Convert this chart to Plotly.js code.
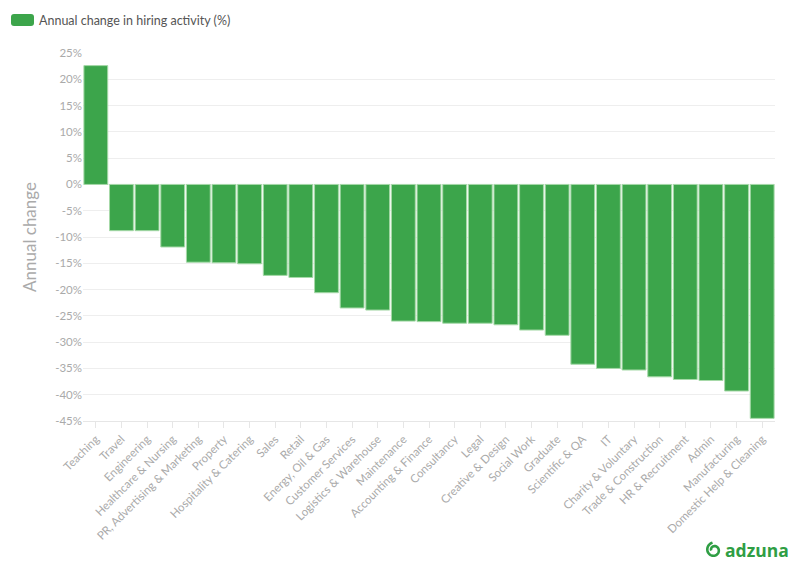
<!DOCTYPE html>
<html>
<head>
<meta charset="utf-8">
<script src="https://cdn.plot.ly/plotly-3.0.1.min.js"></script>
<style>html,body{margin:0;padding:0;background:#fff;}#chart{width:796px;height:575px;}</style>
</head>
<body>
<div id="chart"></div>
<script>
const categories = ["Teaching","Travel","Engineering","Healthcare & Nursing","PR, Advertising & Marketing","Property","Hospitality & Catering","Sales","Retail","Energy, Oil & Gas","Customer Services","Logistics & Warehouse","Maintenance","Accounting & Finance","Consultancy","Legal","Creative & Design","Social Work","Graduate","Scientific & QA","IT","Charity & Voluntary","Trade & Construction","HR & Recruitment","Admin","Manufacturing","Domestic Help & Cleaning"];
const values = [22.6,-8.8,-8.8,-11.9,-14.8,-14.9,-15.1,-17.3,-17.7,-20.6,-23.5,-23.9,-26.0,-26.1,-26.4,-26.4,-26.7,-27.7,-28.7,-34.2,-35.0,-35.3,-36.6,-37.1,-37.3,-39.3,-44.5];
const yTicks = [25,20,15,10,5,0,-5,-10,-15,-20,-25,-30,-35,-40,-45];
const yTickLabels = yTicks.map(v => v + "%");
const seriesName = "Annual change in hiring activity (%)";

const L = 83, R = 775, T = 53, B = 421;
const px = x => (x - L) / (R - L);
const py = y => (B - y) / (B - T);

const trace = {
  type: "bar",
  x: categories,
  y: values,
  name: seriesName,
  marker: {color: "#3ca54b", line: {color: "#a6d9a8", width: 1}},
  showlegend: false,
  hoverinfo: "x+y"
};

function roundRect(x0, y0, x1, y1, r) {
  const X = v => px(v), Y = v => py(v);
  return `M ${X(x0 + r)},${Y(y0)} L ${X(x1 - r)},${Y(y0)} Q ${X(x1)},${Y(y0)} ${X(x1)},${Y(y0 + r)} ` +
    `L ${X(x1)},${Y(y1 - r)} Q ${X(x1)},${Y(y1)} ${X(x1 - r)},${Y(y1)} L ${X(x0 + r)},${Y(y1)} ` +
    `Q ${X(x0)},${Y(y1)} ${X(x0)},${Y(y1 - r)} L ${X(x0)},${Y(y0 + r)} Q ${X(x0)},${Y(y0)} ${X(x0 + r)},${Y(y0)} Z`;
}
function spiral() {
  const cx = 714, cy = 550, pts = [];
  const n = 60, turns = 1.25, r0 = 7.5, r1 = 2.8;
  for (let i = 0; i <= n; i++) {
    const t = i / n;
    const a = -Math.PI / 2 - 0.2 - t * turns * 2 * Math.PI;
    const r = r0 - (r0 - r1) * t;
    pts.push([cx + r * Math.cos(a), cy + r * Math.sin(a)]);
  }
  return "M " + pts.map(p => px(p[0]) + "," + py(p[1])).join(" L ");
}

const layout = {
  width: 796, height: 575,
  margin: {l: L, r: 796 - R, t: T, b: 575 - B},
  paper_bgcolor: "#fff", plot_bgcolor: "#fff",
  font: {family: "Lato, 'Open Sans', sans-serif", color: "#aaa"},
  bargap: 0.07,
  xaxis: {
    type: "category",
    tickangle: -45,
    tickfont: {size: 11.5, color: "#aaa"},
    ticks: "outside", ticklen: 6, tickcolor: "#e6e6e6",
    showgrid: false, showline: true, linecolor: "#e6e6e6", linewidth: 1,
    automargin: false
  },
  yaxis: {
    range: [-45, 25],
    tickvals: yTicks, ticktext: yTickLabels,
    tickfont: {size: 11.5, color: "#aaa"},
    gridcolor: "#eeeeee", zeroline: false,
    ticks: "", ticklen: 0,
    title: {text: "Annual change", font: {size: 17, color: "#aaa"}, standoff: 14},
    automargin: false
  },
  shapes: [
    {type: "path", xref: "paper", yref: "paper",
     path: roundRect(11, 14, 34, 26, 3), fillcolor: "#3ca54b", line: {width: 0}},
    {type: "path", xref: "paper", yref: "paper",
     path: spiral(), line: {color: "#2f9e44", width: 2.6}, fillcolor: "rgba(0,0,0,0)"}
  ],
  annotations: [
    {xref: "paper", yref: "paper", x: px(723), y: py(20), xanchor: "left", yanchor: "middle",
     text: "", showarrow: false, visible: false},
    {xref: "paper", yref: "paper", x: px(37), y: py(20), xanchor: "left", yanchor: "middle",
     text: seriesName, showarrow: false, font: {size: 12.5, color: "#555", family: "Lato, 'Open Sans', sans-serif"}},
    {xref: "paper", yref: "paper", x: px(723), y: py(550), xanchor: "left", yanchor: "middle",
     text: "<b>adzuna</b>", showarrow: false, font: {size: 17.5, color: "#2f9e44", family: "'Open Sans', Lato, sans-serif"}}
  ]
};

Plotly.newPlot("chart", [trace], layout, {displayModeBar: false, staticPlot: true});
</script>
</body>
</html>
